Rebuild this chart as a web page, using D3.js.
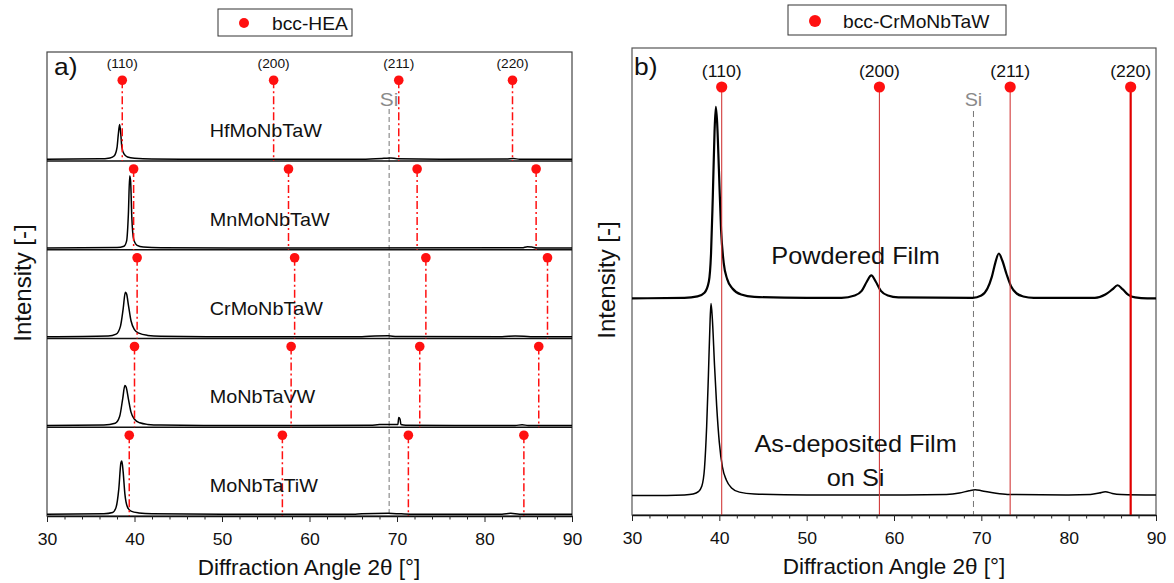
<!DOCTYPE html>
<html><head><meta charset="utf-8">
<script src="https://cdn.jsdelivr.net/npm/d3@7"></script>
<style>
body{margin:0;background:#fff;}
svg{display:block;font-family:"Liberation Sans",Arial,sans-serif;}
</style>
</head><body>
<svg id="chart" width="1174" height="583"></svg>
<script>
// ---------------- data ----------------
const xTicks = [30, 40, 50, 60, 70, 80, 90];
const minorTicks = [32,34,36,38,42,44,46,48,52,54,56,58,62,64,66,68,72,74,76,78,82,84,86,88];
const hklLabels = ["(110)", "(200)", "(211)", "(220)"];
const siAngle = 69.1;

// panel a
const samplesA = ["HfMoNbTaW", "MnMoNbTaW", "CrMoNbTaW", "MoNbTaVW", "MoNbTaTiW"];
const refHf = [38.6, 55.9, 70.2, 83.2];
const refMn = [39.9, 57.6, 72.3, 85.9];
const refCr = [40.3, 58.3, 73.3, 87.2];
const refV  = [40.0, 57.9, 72.6, 86.2];
const refTi = [39.4, 56.9, 71.3, 84.5];

const traceHf = [[30,0.02],[36,0.024],[37.2,0.035],[37.7,0.06],[38.0,0.15],[38.15,0.3],[38.3,0.41],[38.42,0.32],[38.55,0.16],[38.8,0.08],[39.2,0.045],[40,0.03],[42,0.022],[50,0.02],[66,0.02],[68.5,0.03],[69.3,0.035],[70,0.025],[75,0.02],[82.5,0.022],[83.3,0.028],[84,0.02],[90,0.02]];
const traceMn = [[30,0.02],[38,0.025],[38.8,0.04],[39.1,0.1],[39.3,0.4],[39.45,0.83],[39.55,0.78],[39.7,0.35],[39.9,0.12],[40.3,0.05],[41,0.03],[43,0.022],[60,0.02],[84.3,0.022],[84.9,0.035],[85.4,0.03],[86,0.02],[90,0.02]];
const traceCr = [[30,0.02],[37,0.028],[37.9,0.05],[38.4,0.14],[38.7,0.33],[38.95,0.52],[39.1,0.5],[39.3,0.38],[39.6,0.2],[40,0.1],[40.5,0.06],[41.5,0.035],[43,0.025],[50,0.02],[66,0.02],[67.5,0.028],[69,0.03],[70,0.022],[82,0.02],[83.5,0.028],[84.5,0.026],[85.5,0.02],[90,0.02]];
const traceV  = [[30,0.02],[36.5,0.025],[37.8,0.045],[38.3,0.12],[38.65,0.32],[38.9,0.47],[39.05,0.45],[39.3,0.32],[39.6,0.17],[40,0.09],[40.6,0.05],[41.5,0.032],[43,0.024],[50,0.02],[67,0.022],[68,0.03],[69.5,0.03],[70.1,0.03],[70.2,0.11],[70.35,0.09],[70.45,0.03],[71,0.022],[83.5,0.02],[84.3,0.028],[85,0.02],[90,0.02]];
const traceTi = [[30,0.02],[36.5,0.026],[37.5,0.04],[37.9,0.1],[38.2,0.3],[38.45,0.6],[38.55,0.62],[38.7,0.5],[38.9,0.25],[39.2,0.1],[39.6,0.055],[40.5,0.035],[42,0.025],[50,0.02],[65,0.02],[66,0.026],[69,0.03],[70.5,0.024],[72,0.02],[82,0.02],[83,0.03],[84,0.02],[90,0.02]];

// panel b
const samplesB = ["Powdered Film", "As-deposited Film", "on Si"];
const refB = [40.27, 58.33, 73.3, 87.1];
const offsetsB = [420, 0];
const tracePowder = [[30,44],[36,45],[37.5,48],[38.3,56],[38.8,80],[39.05,140],[39.25,260],[39.45,400],[39.6,454],[39.75,420],[39.95,320],[40.2,190],[40.5,120],[40.9,85],[41.5,65],[42.5,52],[44,47],[50,45],[54,45],[55.5,50],[56.3,60],[56.9,80],[57.4,93],[57.9,80],[58.5,60],[59.3,50],[60.5,46],[69,45],[70,50],[70.7,65],[71.2,90],[71.6,120],[72.0,140],[72.4,125],[72.9,95],[73.4,70],[74.0,55],[74.8,48],[76,45],[83,45],[84.2,52],[85,63],[85.6,72],[86.2,63],[86.8,52],[87.6,46],[89,44],[90,44]];
const traceAsDep = [[30,42],[34,42],[36,43],[37,45],[37.6,50],[38.0,62],[38.3,100],[38.55,190],[38.75,300],[38.95,420],[39.05,453],[39.2,420],[39.45,320],[39.7,232],[40.0,155],[40.35,103],[40.8,75],[41.4,58],[42.3,49],[44,45],[50,43],[60,43],[66,44],[67.5,47],[68.6,52],[69.3,54],[70,52],[71.5,47],[73,44],[80,43],[82.5,44],[83.5,47],[84.2,50],[85,46],[86,44],[90,43]];

const tracesA = [traceHf, traceMn, traceCr, traceV, traceTi];
const refsA = [refHf, refMn, refCr, refV, refTi];
const tracesB = [tracePowder, traceAsDep];

// ---------------- drawing ----------------
const SX = 1.1; // horizontal stretch of the original figure's small text
const svg = d3.select("#chart");
const RED = "#ff1010";

function txt(parent, s, x, y, size, anchor, fill, sx) {
  const k = sx === undefined ? SX : sx;
  return parent.append("text")
    .attr("transform", `translate(${x},${y}) scale(${k},1)`)
    .attr("text-anchor", anchor || "start")
    .attr("font-size", size)
    .attr("fill", fill || "#111")
    .text(s);
}

function bottomAxis(g, x, y) {
  const ax = g.append("g").attr("transform", `translate(0,${y})`)
    .call(d3.axisBottom(x).tickValues(xTicks).tickSize(6).tickSizeOuter(0).tickPadding(11.5));
  ax.select(".domain").attr("stroke", "#111").attr("stroke-width", 1.6);
  ax.selectAll(".tick line").attr("stroke", "#222");
  ax.selectAll(".tick text").attr("font-size", 16).attr("fill", "#111")
    .attr("font-family", "Liberation Sans, Arial, sans-serif")
    .attr("transform", `scale(${SX},1)`);
  const mi = g.append("g").attr("transform", `translate(0,${y})`)
    .call(d3.axisBottom(x).tickValues(minorTicks).tickSize(3.5).tickSizeOuter(0).tickFormat(""));
  mi.select(".domain").remove();
  mi.selectAll(".tick line").attr("stroke", "#222");
}

// ===== Panel a =====
const gA = svg.append("g");
const xA = d3.scaleLinear().domain([30, 90]).range([47, 572]);
const topA = 52, bottomA = 516, rowH = 88.75;
const rowBottom = i => bottomA - (samplesA.length - 1 - i) * rowH;

gA.append("rect").attr("x", xA(30)).attr("y", topA)
  .attr("width", xA(90) - xA(30)).attr("height", bottomA - topA)
  .attr("fill", "none").attr("stroke", "#444").attr("stroke-width", 1.2);

// Si line
gA.append("line").attr("x1", xA(siAngle)).attr("x2", xA(siAngle))
  .attr("y1", 109).attr("y2", bottomA)
  .attr("stroke", "#666").attr("stroke-width", 0.9).attr("stroke-dasharray", "5,3");
txt(gA, "Si", xA(siAngle), 106, 19, "middle", "#8a8a8a");

samplesA.forEach((name, i) => {
  const b = rowBottom(i);
  const y = d3.scaleLinear().domain([0, 1]).range([b, b - rowH]);
  if (i < samplesA.length - 1) {
    gA.append("line").attr("x1", xA(30)).attr("x2", xA(90)).attr("y1", b).attr("y2", b)
      .attr("stroke", "#111").attr("stroke-width", 1.4);
  }
  const line = d3.line().x(d => xA(d[0])).y(d => y(d[1])).curve(d3.curveMonotoneX);
  gA.append("path").datum(tracesA[i]).attr("d", line)
    .attr("fill", "none").attr("stroke", "#000").attr("stroke-width", 1.5);
  const my = b - rowH + 8;
  refsA[i].forEach(a => {
    gA.append("line").attr("x1", xA(a)).attr("x2", xA(a)).attr("y1", my).attr("y2", b)
      .attr("stroke", RED).attr("stroke-width", 1.5).attr("stroke-dasharray", "8,3,2,3");
    gA.append("circle").attr("cx", xA(a)).attr("cy", my).attr("r", 4.8).attr("fill", RED);
  });
  txt(gA, name, xA(48.6), b - 24, 18, "start");
});
refHf.forEach((a, k) => txt(gA, hklLabels[k], xA(a), 68, 12.5, "middle"));
txt(gA, "a)", 54, 75, 24, "start");

bottomAxis(gA, xA, bottomA);
txt(gA, "Diffraction Angle 2\u03B8 [\u00B0]", 309, 575, 22.5, "middle", "#111", 1);
gA.append("text").attr("transform", "translate(31,283) rotate(-90)")
  .attr("text-anchor", "middle").attr("font-size", 24).attr("fill", "#111").text("Intensity [-]");

// legend a
gA.append("rect").attr("x", 218).attr("y", 9).attr("width", 134).attr("height", 27)
  .attr("fill", "#fff").attr("stroke", "#333").attr("stroke-width", 1);
gA.append("circle").attr("cx", 244).attr("cy", 23).attr("r", 5).attr("fill", RED);
txt(gA, "bcc-HEA", 272, 29.5, 17.5, "start");

// ===== Panel b =====
const gB = svg.append("g");
const xB = d3.scaleLinear().domain([30, 90]).range([632, 1156]);
const topB = 48, bottomB = 515;
const yB = d3.scaleLinear().domain([0, 1000]).range([bottomB, topB]);

gB.append("rect").attr("x", xB(30)).attr("y", topB)
  .attr("width", xB(90) - xB(30)).attr("height", bottomB - topB)
  .attr("fill", "none").attr("stroke", "#555").attr("stroke-width", 1.2);

gB.append("line").attr("x1", xB(siAngle)).attr("x2", xB(siAngle))
  .attr("y1", 111).attr("y2", bottomB)
  .attr("stroke", "#666").attr("stroke-width", 0.9).attr("stroke-dasharray", "6,4");
txt(gB, "Si", xB(siAngle), 106, 18, "middle", "#8a8a8a");

tracesB.forEach((tr, i) => {
  const line = d3.line().x(d => xB(d[0])).y(d => yB(d[1] + offsetsB[i])).curve(d3.curveMonotoneX);
  gB.append("path").datum(tr).attr("d", line)
    .attr("fill", "none").attr("stroke", "#000").attr("stroke-width", i === 0 ? 2.2 : 1.5);
});

refB.forEach((a, k) => {
  const last = k === refB.length - 1;
  gB.append("line").attr("x1", xB(a)).attr("x2", xB(a)).attr("y1", 87).attr("y2", bottomB)
    .attr("stroke", last ? "#e00000" : "#d23a3a").attr("stroke-width", last ? 2.2 : 1.1);
  gB.append("circle").attr("cx", xB(a)).attr("cy", 87).attr("r", 5.6).attr("fill", RED);
  txt(gB, hklLabels[k], xB(a), 77, 16, "middle");
});
txt(gB, "b)", 634, 75, 24, "start");

txt(gB, samplesB[0], xB(55.6), 264, 23, "middle");
txt(gB, samplesB[1], xB(55.6), 452, 23, "middle");
txt(gB, samplesB[2], xB(55.6), 486, 23, "middle");

bottomAxis(gB, xB, bottomB);
txt(gB, "Diffraction Angle 2\u03B8 [\u00B0]", 894, 574, 22.5, "middle", "#111", 1);
gB.append("text").attr("transform", "translate(615,280) rotate(-90)")
  .attr("text-anchor", "middle").attr("font-size", 24).attr("fill", "#111").text("Intensity [-]");

// legend b
gB.append("rect").attr("x", 788).attr("y", 5).attr("width", 218).attr("height", 30)
  .attr("fill", "#fff").attr("stroke", "#333").attr("stroke-width", 1);
gB.append("circle").attr("cx", 815).attr("cy", 21).attr("r", 6).attr("fill", RED);
txt(gB, "bcc-CrMoNbTaW", 843, 27.7, 17.5, "start");
</script>
</body></html>
